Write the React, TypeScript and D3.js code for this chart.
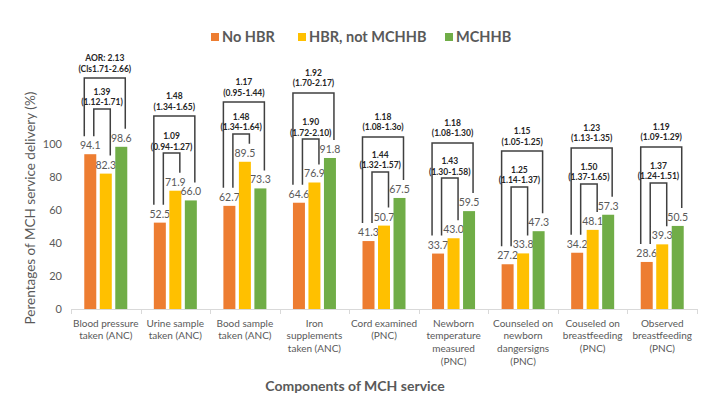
import * as d3 from 'd3';

const categories: string[][] = [
  ['Blood pressure', 'taken (ANC)'],
  ['Urine sample', 'taken (ANC)'],
  ['Bood sample', 'taken (ANC)'],
  ['Iron', 'supplements', 'taken (ANC)'],
  ['Cord examined', '(PNC)'],
  ['Newborn', 'temperature', 'measured', '(PNC)'],
  ['Counseled on', 'newborn', 'dangersigns', '(PNC)'],
  ['Couseled on', 'breastfeeding', '(PNC)'],
  ['Observed', 'breastfeeding', '(PNC)'],
];

const seriesNames = ['No HBR', 'HBR, not MCHHB', 'MCHHB'];
const noHbr = [94.1, 52.5, 62.7, 64.6, 41.3, 33.7, 27.2, 34.2, 28.6];
const hbrNotMchhb = [82.3, 71.9, 89.5, 76.9, 50.7, 43.0, 33.8, 48.1, 39.3];
const mchhb = [98.6, 66.0, 73.3, 91.8, 67.5, 59.5, 47.3, 57.3, 50.5];

const yTicks = [0, 20, 40, 60, 80, 100];

// odds ratio annotations (outer: No HBR vs MCHHB, inner: No HBR vs HBR)
const outerAor = ['AOR: 2.13', '1.48', '1.17', '1.92', '1.18', '1.18', '1.15', '1.23', '1.19'];
const outerCi = ['(Cls1.71-2.66)', '(1.34-1.65)', '(0.95-1.44)', '(1.70-2.17)', '(1.08-1.3o)', '(1.08-1.30)', '(1.05-1.25)', '(1.13-1.35)', '(1.09-1.29)'];
const innerAor = ['1.39', '1.09', '1.48', '1.90', '1.44', '1.43', '1.25', '1.50', '1.37'];
const innerCi = ['(1.12-1.71)', '(0.94-1.27)', '(1.34-1.64)', '(1.72-2.10)', '(1.32-1.57)', '(1.30-1.58)', '(1.14-1.37)', '(1.37-1.65)', '(1.24-1.51)'];
// bracket heights in % units
const outerLevel = [140.4, 117.3, 125.8, 131.3, 104.6, 100.9, 96, 97.9, 98.5];
const innerLevel = [121.6, 94.8, 106.4, 103.3, 83.3, 79.6, 74.2, 76, 76.6];

const colors = ['#ED7D31', '#FFC000', '#70AD47'];
const font = 'Lato, "Open Sans", sans-serif';

export default function App() {
  const width = 714;
  const height = 402;
  const series = [noHbr, hbrNotMchhb, mchhb];

  const x = d3.scaleBand<number>().domain(d3.range(categories.length)).range([71, 697]);
  const y = d3.scaleLinear().domain([0, 100]).range([309, 144.5]);
  const inner = d3.scaleBand<number>().domain([0, 1, 2]).range([0, 43]).paddingInner(0.226);

  const center = (i: number) => (x(i) ?? 0) + x.bandwidth() / 2;
  const barX = (i: number, s: number) => center(i) - 21.5 + (inner(s) ?? 0);
  const barMid = (i: number, s: number) => barX(i, s) + inner.bandwidth() / 2;
  const legBottom = (v: number) => y(v) - 18;

  const legend = [
    { x: 211, label: seriesNames[0] },
    { x: 298, label: seriesNames[1] },
    { x: 445, label: seriesNames[2] },
  ];

  return (
    <svg width={width} height={height} style={{ position: 'absolute', left: 0, top: 0 }} fontFamily={font}>
      <rect width={width} height={height} fill="#fff" />

      {/* legend */}
      {legend.map((d, i) => (
        <g key={d.label}>
          <rect x={d.x} y={33} width={8} height={8} fill={colors[i]} />
          <text x={d.x + 11} y={37} dy="0.35em" fontSize={14.5} fontWeight={700} fill="#595959">
            {d.label}
          </text>
        </g>
      ))}

      {/* y axis */}
      {yTicks.map(t => (
        <text key={t} x={62} y={y(t)} dy="0.35em" textAnchor="end" fontSize={11} fill="#595959">
          {t}
        </text>
      ))}
      <text
        transform={`translate(30,${208}) rotate(-90)`}
        textAnchor="middle"
        dy="0.35em"
        fontSize={13.5}
        fill="#595959"
      >
        Perentages of MCH service delivery (%)
      </text>

      {/* x axis */}
      <line x1={71} x2={697} y1={309.5} y2={309.5} stroke="#d9d9d9" />
      {d3.range(categories.length + 1).map(i => {
        const xx = Math.round(71 + i * x.step()) + 0.5;
        return <line key={i} x1={xx} x2={xx} y1={309} y2={314} stroke="#d9d9d9" />;
      })}
      {categories.map((lines, i) => (
        <text key={i} x={center(i)} y={323} fontSize={10} fill="#595959" textAnchor="middle">
          {lines.map((l, j) => (
            <tspan key={j} x={center(i)} dy={j === 0 ? '0.35em' : 12.8}>
              {l}
            </tspan>
          ))}
        </text>
      ))}
      <text x={355} y={386} dy="0.35em" textAnchor="middle" fontSize={14} fontWeight={700} fill="#595959">
        Components of MCH service
      </text>

      {/* bars */}
      {series.map((vals, s) =>
        vals.map((v, i) => (
          <g key={`${s}-${i}`}>
            <rect x={barX(i, s)} y={y(v)} width={inner.bandwidth()} height={y(0) - y(v)} fill={colors[s]} />
            <text x={barMid(i, s)} y={y(v) - 5} textAnchor="middle" fontSize={10.5} fill="#595959">
              {v.toFixed(1)}
            </text>
          </g>
        ))
      )}

      {/* brackets */}
      {categories.map((_, i) => {
        const oL = barMid(i, 0) - 6;
        const oR = barMid(i, 2) + 4;
        const iL = barMid(i, 0) + 3.5;
        const iR = barMid(i, 1) + 4.5;
        const oTop = y(outerLevel[i]);
        const iTop = y(innerLevel[i]);
        return (
          <g key={i} fill="none" stroke="#404040" strokeWidth={1.5}>
            <path d={`M${oL},${legBottom(noHbr[i])}V${oTop}H${oR}V${legBottom(mchhb[i])}`} />
            <path d={`M${iL},${legBottom(noHbr[i])}V${iTop}H${iR}V${legBottom(hbrNotMchhb[i])}`} />
            <g stroke="none" fill="#262626" fontSize={8.5} fontWeight={700} textAnchor="middle">
              <text x={(oL + oR) / 2} y={oTop - 20} dy="0.35em">{outerAor[i]}</text>
              <text x={(oL + oR) / 2} y={oTop - 9.5} dy="0.35em">{outerCi[i]}</text>
              <text x={(iL + iR) / 2} y={iTop - 17} dy="0.35em">{innerAor[i]}</text>
              <text x={(iL + iR) / 2} y={iTop - 6.5} dy="0.35em">{innerCi[i]}</text>
            </g>
          </g>
        );
      })}
    </svg>
  );
}
